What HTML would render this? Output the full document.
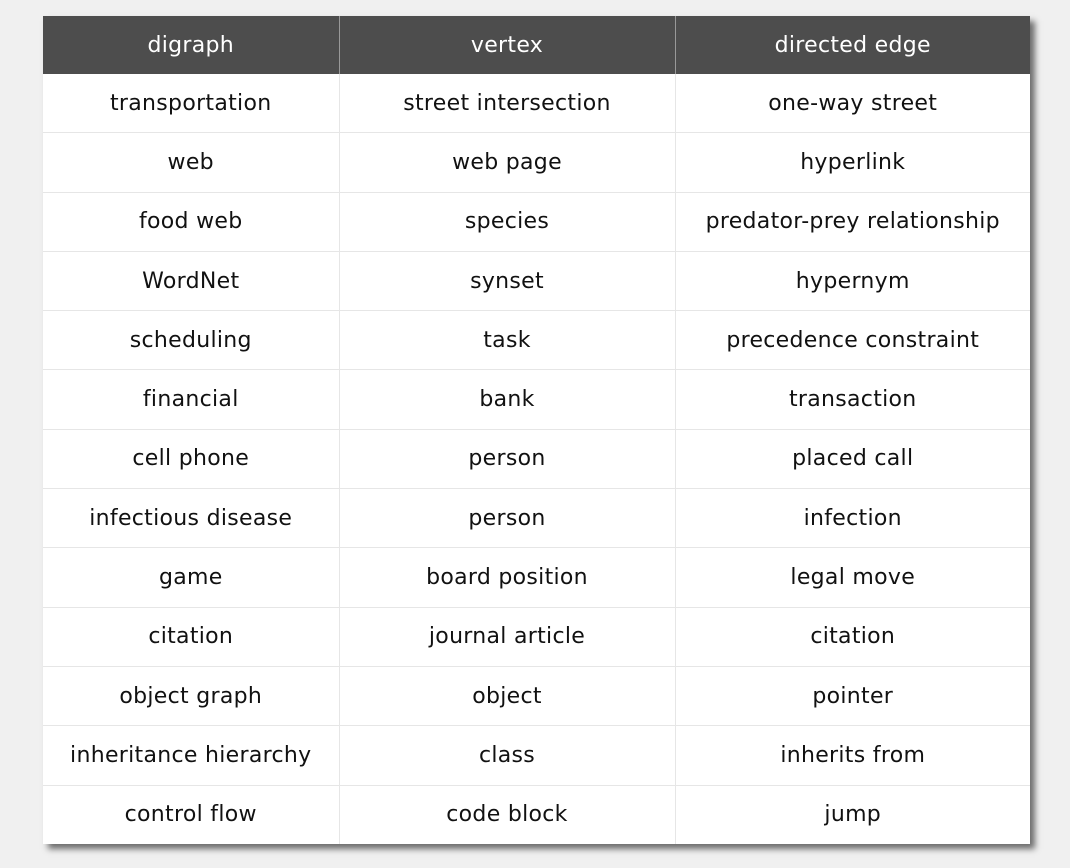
<!DOCTYPE html>
<html><head><style>
html,body{margin:0;padding:0;}
body{width:1070px;height:868px;background:#f0f0f0;position:relative;overflow:hidden;font-family:"DejaVu Sans","Liberation Sans",sans-serif;}
table{position:absolute;left:43px;top:16px;width:987px;border-collapse:collapse;background:#fff;box-shadow:5px 5px 6px rgba(0,0,0,0.55);table-layout:fixed;}
th{background:#4d4d4d;color:#fff;font-weight:normal;height:58px;font-size:22px;letter-spacing:0.3px;border-right:1px solid #999;padding:0;}
th:last-child{border-right:none;}
td{height:58.3px;font-size:22px;letter-spacing:0.3px;color:#111;text-align:center;padding:0;border-right:1px solid #e6e6e6;border-top:1px solid #e6e6e6;}
td:last-child{border-right:none;}
tr:nth-child(2) td{border-top:none;}
</style></head><body>
<table>
<colgroup><col style="width:296px"><col style="width:336px"><col style="width:355px"></colgroup>
<tr><th>digraph</th><th>vertex</th><th>directed edge</th></tr>
<tr><td>transportation</td><td>street intersection</td><td>one-way street</td></tr>
<tr><td>web</td><td>web page</td><td>hyperlink</td></tr>
<tr><td>food web</td><td>species</td><td>predator-prey relationship</td></tr>
<tr><td>WordNet</td><td>synset</td><td>hypernym</td></tr>
<tr><td>scheduling</td><td>task</td><td>precedence constraint</td></tr>
<tr><td>financial</td><td>bank</td><td>transaction</td></tr>
<tr><td>cell phone</td><td>person</td><td>placed call</td></tr>
<tr><td>infectious disease</td><td>person</td><td>infection</td></tr>
<tr><td>game</td><td>board position</td><td>legal move</td></tr>
<tr><td>citation</td><td>journal article</td><td>citation</td></tr>
<tr><td>object graph</td><td>object</td><td>pointer</td></tr>
<tr><td>inheritance hierarchy</td><td>class</td><td>inherits from</td></tr>
<tr><td>control flow</td><td>code block</td><td>jump</td></tr>
</table>
</body></html>
